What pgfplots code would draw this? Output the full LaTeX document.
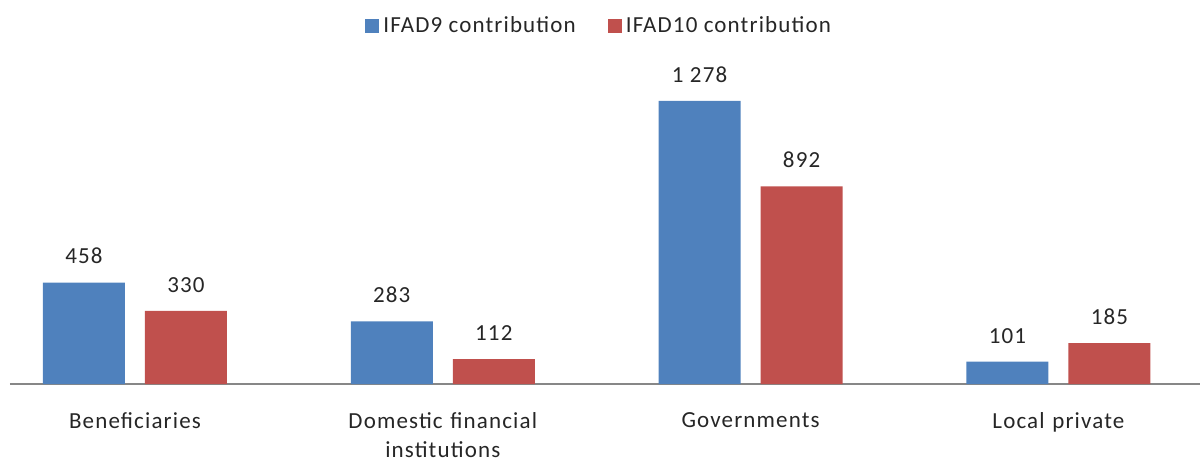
\documentclass[border=0pt]{standalone}
\usepackage{pgfplots}
\pgfplotsset{compat=1.18}
\usepackage{fontspec}
\setmainfont{Carlito}[LetterSpace=5]
\definecolor{ifadblue}{HTML}{4F81BD}
\definecolor{ifadred}{HTML}{C0504D}
\definecolor{txt}{HTML}{262626}
\begin{document}
\begin{tikzpicture}
\begin{axis}[
  at={(5pt,36.5pt)}, anchor=south west,
  scale only axis, width=595pt, height=167pt,
  ybar=10pt, bar width=41pt,
  xmin=-0.406, xmax=3.46, ymin=0, ymax=1508,
  axis x line=bottom, hide y axis,
  axis line style={draw=black!47, line width=0.8pt, -},
  xtick=data, major tick length=0pt,
  xticklabels={Beneficiaries,{Domestic financial\\institutions},Governments,Local private},
  xticklabel style={yshift=-10.8pt, align=center, text width=150pt, font=\fontsize{11.5}{14.5}\selectfont, text=txt},
  nodes near coords,
  every node near coord/.append style={font=\fontsize{11.5}{14}\selectfont, text=txt, yshift=5.7pt},
  /pgf/number format/.cd, 1000 sep={\ }, assume math mode=true, /pgfplots/.cd,
  legend columns=2,
  legend style={at={(axis description cs:0.496,1.072)}, anchor=center, draw=none, fill=none,
    font=\fontsize{11.5}{14}\selectfont, text=txt,
    /tikz/every even column/.append style={column sep=14pt}},
]
\addplot[fill=ifadblue, draw=none, legend image code/.code={\fill[ifadblue] (0pt,-3.5pt) rectangle (7pt,3.5pt);}] coordinates {(0,458) (1,283) (2,1278) (3,101)};
\addplot[fill=ifadred, draw=none, legend image code/.code={\fill[ifadred] (0pt,-3.5pt) rectangle (7pt,3.5pt);}] coordinates {(0,330) (1,112) (2,892) (3,185)};
\legend{IFAD9 contribution, IFAD10 contribution}
\end{axis}
\pgfresetboundingbox
\useasboundingbox (0,0) rectangle (600pt,228.5pt);
\end{tikzpicture}
\end{document}
